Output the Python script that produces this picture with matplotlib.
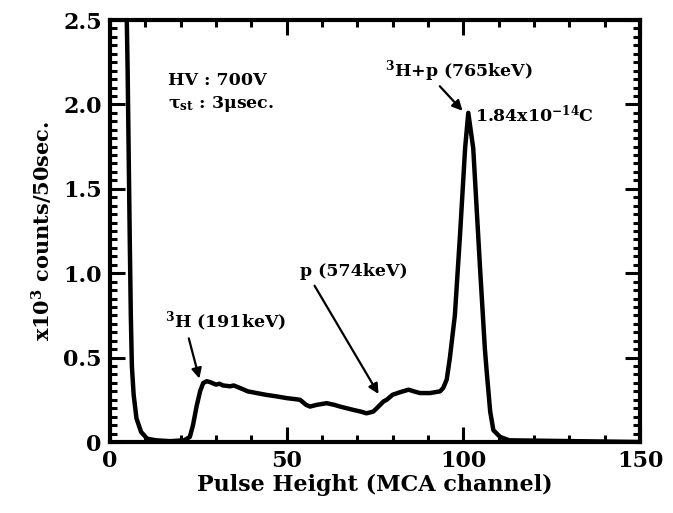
import matplotlib
matplotlib.use("Agg")
import matplotlib.pyplot as plt
from matplotlib.ticker import MultipleLocator, FixedLocator

# --- dane ---
channel = [4.6, 5.0, 5.3, 5.6, 5.9, 6.2, 6.7, 7.5, 8.8, 10.5, 13, 17, 21,
           22.6, 23.5, 24.5, 25.5, 26.4, 27.4, 28.3, 30, 31, 32, 34, 35,
           36.8, 39, 41.5, 44, 47.2, 50, 52, 53.8, 55.5, 56.6, 58.5, 61.3,
           63.5, 65.1, 67, 68.9, 71, 72.6, 74.5, 75.5, 77.4, 78.3, 80, 82.1,
           84.5, 86, 87.7, 90.6, 93.4, 94.3, 95.3, 96.2, 97.6, 99.1, 100.5,
           101.4, 102.8, 104.7, 106.1, 106.6, 107.6, 108.5, 110.4, 113, 150]
counts = [2.7, 2.2, 1.7, 1.2, 0.75, 0.45, 0.28, 0.14, 0.06, 0.02, 0.01, 0.005, 0.01,
          0.03, 0.10, 0.21, 0.30, 0.35, 0.36, 0.355, 0.34, 0.345, 0.335, 0.33, 0.335,
          0.32, 0.30, 0.29, 0.28, 0.27, 0.26, 0.255, 0.25, 0.22, 0.21, 0.22, 0.23,
          0.22, 0.21, 0.20, 0.19, 0.18, 0.17, 0.18, 0.20, 0.24, 0.25, 0.28, 0.295,
          0.31, 0.30, 0.29, 0.29, 0.30, 0.32, 0.37, 0.50, 0.75, 1.24, 1.74,
          1.95, 1.74, 1.04, 0.55, 0.42, 0.18, 0.07, 0.03, 0.01, 0.0]

x_ticks = [0, 50, 100, 150]
y_ticks = [0, 0.5, 1.0, 1.5, 2.0, 2.5]
y_labels = ["0", "0.5", "1.0", "1.5", "2.0", "2.5"]

plt.rcParams['font.family'] = ['DejaVu Serif']
plt.rcParams['font.weight'] = 'bold'
plt.rcParams['mathtext.fontset'] = 'dejavuserif'
plt.rcParams['mathtext.default'] = 'bf'

fig = plt.figure(figsize=(6.73, 5.13), dpi=100)
ax = fig.add_axes([0.1634, 0.1384, 0.7876, 0.8226])

ax.plot(channel, counts, color='black', lw=3.2, solid_joinstyle='round')

ax.set_xlim(0, 150)
ax.set_ylim(0, 2.5)
ax.xaxis.set_major_locator(FixedLocator(x_ticks))
ax.xaxis.set_minor_locator(MultipleLocator(10))
ax.yaxis.set_major_locator(FixedLocator(y_ticks))
ax.set_yticklabels(y_labels)
ax.yaxis.set_minor_locator(MultipleLocator(0.05))

ax.tick_params(which='both', direction='in', top=True, right=True,
               labelsize=16, width=2.2, pad=6)
ax.tick_params(which='major', length=11)
ax.tick_params(which='minor', length=5)
for sp in ax.spines.values():
    sp.set_linewidth(3)

ax.set_xlabel('Pulse Height (MCA channel)', fontsize=16, fontweight='bold', labelpad=1)
ax.set_ylabel('x10$^3$ counts/50sec.', fontsize=15, fontweight='bold', labelpad=6)

# adnotacje
fs = 12.5
ax.text(16.4, 2.14, 'HV : 700V', fontsize=fs, fontweight='bold', va='center')
ax.text(16.4, 2.0, 'τ$_{st}$ : 3μsec.', fontsize=fs, fontweight='bold', va='center')

arrow = dict(arrowstyle='-|>', color='black', lw=1.6, mutation_scale=15)
ax.text(77.8, 2.2, '$^3$H+p (765keV)', fontsize=fs, fontweight='bold', va='center')
ax.annotate('', xy=(100.3, 1.95), xytext=(92.8, 2.12), arrowprops=arrow)
ax.text(103.3, 1.94, '1.84x10$^{-14}$C', fontsize=fs, fontweight='bold', va='center')

ax.text(15.6, 0.71, '$^3$H (191keV)', fontsize=fs, fontweight='bold', va='center')
ax.annotate('', xy=(25.5, 0.36), xytext=(22.1, 0.63), arrowprops=arrow)

ax.text(53.8, 1.01, 'p (574keV)', fontsize=fs, fontweight='bold', va='center')
ax.annotate('', xy=(76.4, 0.27), xytext=(57.5, 0.94), arrowprops=arrow)

fig.savefig('out.png', dpi=100)
